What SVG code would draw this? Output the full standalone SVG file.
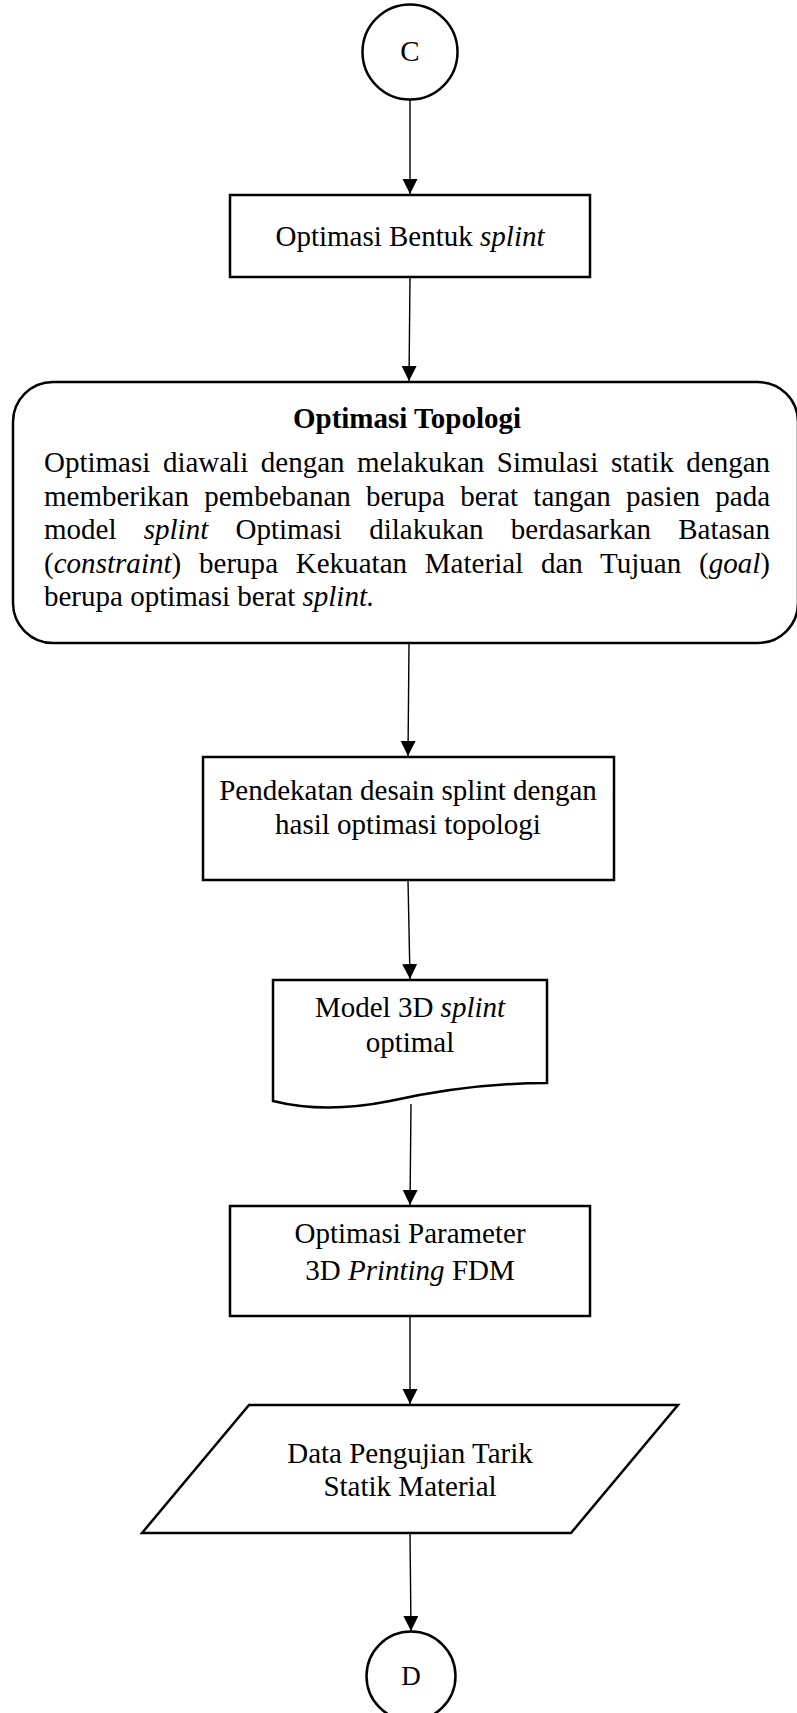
<svg xmlns="http://www.w3.org/2000/svg" width="797" height="1713" viewBox="0 0 797 1713">
  <defs>
    <marker id="arrow" markerUnits="userSpaceOnUse" markerWidth="16" markerHeight="16" refX="15" refY="7.5" orient="auto">
      <path d="M0,0 L15,7.5 L0,15 Z" fill="#000"/>
    </marker>
    <style>
      .shape { fill: #fff; stroke: #000; stroke-width: 2.5; }
      .conn { fill: none; stroke: #000; stroke-width: 1.4; marker-end: url(#arrow); }
      text { font-family: "Liberation Serif", "Times New Roman", serif; font-size: 29px; fill: #000; }
      .c { text-anchor: middle; }
      .i { font-style: italic; }
      .b { font-weight: bold; }
    </style>
  </defs>
  <rect width="797" height="1713" fill="#fff"/>

  <!-- connectors -->
  <g id="connectors">
    <line class="conn" x1="410" y1="100" x2="410" y2="194"/>
    <line class="conn" x1="410" y1="277" x2="409" y2="381"/>
    <line class="conn" x1="409" y1="643" x2="408" y2="756"/>
    <line class="conn" x1="408" y1="880" x2="410" y2="979"/>
    <line class="conn" x1="411" y1="1104" x2="410" y2="1205"/>
    <line class="conn" x1="410" y1="1316" x2="410" y2="1404"/>
    <line class="conn" x1="410" y1="1533" x2="411" y2="1631"/>
  </g>

  <!-- connector C -->
  <g id="node-c">
    <circle class="shape" cx="410" cy="52" r="47.5"/>
    <text class="c" x="410" y="61">C</text>
  </g>

  <!-- process: shape optimisation -->
  <g id="node-bentuk">
    <rect class="shape" x="230" y="195" width="360" height="82"/>
    <text class="c" x="410" y="246">Optimasi Bentuk <tspan class="i">splint</tspan></text>
  </g>

  <!-- topology optimisation description -->
  <g id="node-topologi">
    <rect class="shape" x="13" y="382" width="785" height="261" rx="40" ry="40"/>
    <text class="c b" x="407" y="428">Optimasi Topologi</text>
    <text x="44" y="472" word-spacing="5.3" textLength="726" lengthAdjust="spacing">Optimasi diawali dengan melakukan Simulasi statik dengan</text>
    <text x="44" y="505.5" word-spacing="8" textLength="726" lengthAdjust="spacing">memberikan pembebanan berupa berat tangan pasien pada</text>
    <text x="44" y="539" word-spacing="20" textLength="726" lengthAdjust="spacing">model <tspan class="i">splint</tspan> Optimasi dilakukan berdasarkan Batasan</text>
    <text x="44" y="572.5" word-spacing="10.4" textLength="726" lengthAdjust="spacing">(<tspan class="i">constraint</tspan>) berupa Kekuatan Material dan Tujuan (<tspan class="i">goal</tspan>)</text>
    <text x="44" y="606">berupa optimasi berat <tspan class="i">splint.</tspan></text>
  </g>

  <!-- process: design approach -->
  <g id="node-pendekatan">
    <rect class="shape" x="203" y="757" width="411" height="123"/>
    <text class="c" x="408" y="800">Pendekatan desain splint dengan</text>
    <text class="c" x="408" y="834">hasil optimasi topologi</text>
  </g>

  <!-- document: optimal 3D model -->
  <g id="node-model">
    <path class="shape" d="M273,980 H547 V1083 C490,1083 440,1090 390,1101 C345,1110 305,1109 273,1101 Z"/>
    <text class="c" x="410" y="1017">Model 3D <tspan class="i">splint</tspan></text>
    <text class="c" x="410" y="1052">optimal</text>
  </g>

  <!-- process: printing parameters -->
  <g id="node-parameter">
    <rect class="shape" x="230" y="1206" width="360" height="110"/>
    <text class="c" x="410" y="1243">Optimasi Parameter</text>
    <text class="c" x="410" y="1280">3D <tspan class="i">Printing</tspan> FDM</text>
  </g>

  <!-- data: tensile test -->
  <g id="node-data">
    <polygon class="shape" points="249,1405 678,1405 571,1533 142,1533"/>
    <text class="c" x="410" y="1463">Data Pengujian Tarik</text>
    <text class="c" x="410" y="1496">Statik Material</text>
  </g>

  <!-- connector D -->
  <g id="node-d">
    <circle class="shape" cx="411" cy="1676" r="44.5"/>
    <text class="c" x="411" y="1685" style="font-size:27px">D</text>
  </g>
</svg>
